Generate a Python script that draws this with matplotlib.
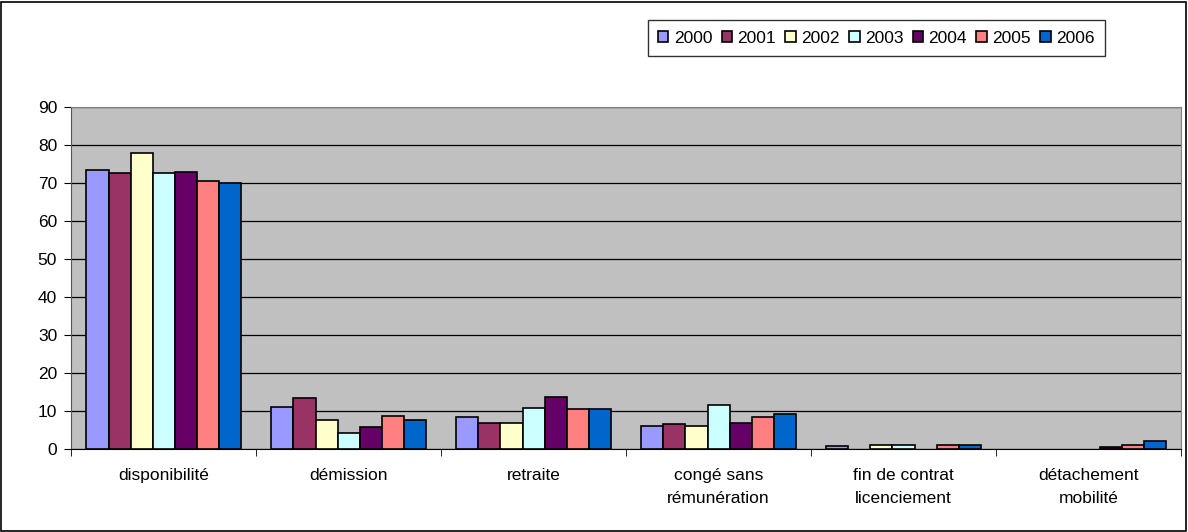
import matplotlib
matplotlib.use('Agg')
import matplotlib.pyplot as plt
import matplotlib.patches as mpatches
import numpy as np

plt.rcParams['font.family'] = ['Liberation Sans', 'DejaVu Sans']

categories = ['disponibilité', 'démission', 'retraite', 'congé sans\nrémunération',
              'fin de contrat\nlicenciement', 'détachement\nmobilité']
years = ['2000', '2001', '2002', '2003', '2004', '2005', '2006']

v2000 = [73.5, 11.1, 8.4, 6.1, 0.8, 0.0]
v2001 = [72.7, 13.4, 6.9, 6.6, 0.0, 0.0]
v2002 = [77.8, 7.6, 6.9, 6.1, 1.15, 0.0]
v2003 = [72.7, 4.2, 10.7, 11.5, 1.15, 0.0]
v2004 = [73.0, 5.8, 13.8, 6.9, 0.0, 0.4]
v2005 = [70.4, 8.8, 10.4, 8.4, 1.15, 1.1]
v2006 = [70.0, 7.6, 10.4, 9.2, 1.15, 2.0]
series = [v2000, v2001, v2002, v2003, v2004, v2005, v2006]

COLORS = ['#9999FF', '#993366', '#FFFFCC', '#CCFFFF', '#660066', '#FF8080', '#0066CC']
FS = 12.5

fig = plt.figure(figsize=(11.88, 5.32), dpi=100)
fig.patch.set_facecolor('white')
fig.patches.append(mpatches.Rectangle((0.001, 0.002), 0.997, 0.995, transform=fig.transFigure,
                                      fill=False, edgecolor='black', linewidth=1.2))

ax = fig.add_axes([0.0598, 0.156, 0.9343, 0.643])
ax.set_facecolor('#C0C0C0')

x = np.arange(len(categories))
bw = 0.119
handles = []
for i, (vals, col) in enumerate(zip(series, COLORS)):
    offs = (i - 3) * bw
    b = ax.bar(x + offs, vals, width=bw, color=col, edgecolor='black', linewidth=1.2,
               zorder=3, label=years[i])
    # empty values: no outline
    for rect, v in zip(b, vals):
        if v == 0:
            rect.set_linewidth(0)
    handles.append(b)

ax.set_xlim(-0.5, len(categories) - 0.5)
ax.set_ylim(0, 90)
ax.set_yticks(np.arange(0, 91, 10))
ax.yaxis.grid(True, color='black', linewidth=0.9, zorder=1)
ax.set_axisbelow(True)

ax.set_xticks(x)
ax.set_xticklabels(categories, fontsize=FS, linespacing=1.6)
ax.tick_params(axis='x', which='major', length=0, pad=14)
ax.set_xticks(np.arange(-0.5, len(categories), 1.0), minor=True)
ax.tick_params(axis='x', which='minor', length=5, color='black', direction='out')
ax.tick_params(axis='y', labelsize=FS, length=5, direction='out', pad=5)

for s in ['top', 'right']:
    ax.spines[s].set_color('#808080')
ax.spines['left'].set_color('#555555')
ax.spines['bottom'].set_color('black')

leg = fig.legend(handles=handles, labels=years, ncol=7, loc='upper right',
                 bbox_to_anchor=(0.930, 0.962), fontsize=FS, frameon=True,
                 fancybox=False, edgecolor='black', handlelength=0.6, handleheight=0.6,
                 handletextpad=0.3, columnspacing=0.55, borderpad=0.6,
                 borderaxespad=0)
leg.get_frame().set_linewidth(1.0)

fig.savefig('out.png', dpi=100)
